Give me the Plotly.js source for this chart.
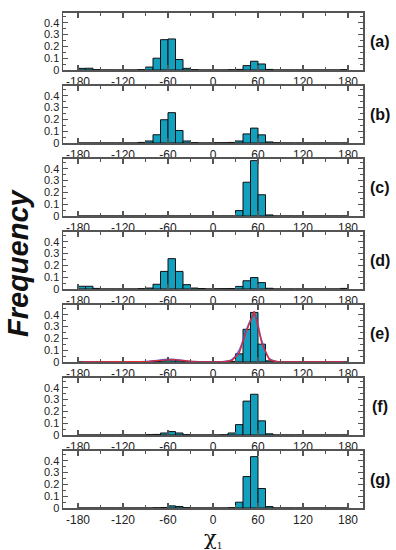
<!DOCTYPE html>
<html>
<head>
<meta charset="utf-8">
<script src="https://cdn.plot.ly/plotly-3.0.1.min.js"></script>
<style>html,body{margin:0;padding:0;background:#fff;}#chart{width:396px;height:550px;}</style>
</head>
<body>
<div id="chart"></div>
<script>
// Bin centers of chi1 (10-degree bins)
const chi1Bins = [-175,-165,-155,-145,-135,-125,-115,-105,-95,-85,-75,-65,-55,-45,-35,-25,-15,-5,
                  5,15,25,35,45,55,65,75,85,95,105,115,125,135,145,155,165,175];

const freqA = [0.014,0.015,0.003,0,0,0,0,0,0.003,0.025,0.10,0.257,0.263,0.089,0.014,0.003,0,0,
               0,0,0.002,0.005,0.037,0.074,0.051,0.005,0,0,0,0,0,0,0,0,0,0.003];
const freqB = [0,0,0,0,0,0,0,0,0.005,0.017,0.07,0.197,0.257,0.106,0.017,0.003,0,0,
               0.002,0.003,0.005,0.017,0.077,0.126,0.069,0.009,0.002,0,0,0,0,0,0,0,0,0];
const freqC = [0,0,0,0,0,0,0,0,0,0,0,0,0,0,0,0,0,0,
               0,0,0,0.046,0.286,0.469,0.18,0.009,0,0,0,0,0,0,0,0,0,0];
const freqD = [0.023,0.023,0.005,0,0,0,0,0,0.003,0.008,0.04,0.149,0.257,0.149,0.037,0.008,0.004,0,
               0.002,0.003,0.004,0.022,0.07,0.097,0.054,0.006,0,0,0,0,0,0,0,0,0,0.005];
const freqE = [0,0,0,0,0,0,0,0,0,0.002,0.005,0.015,0.018,0.012,0.004,0,0,0,
               0,0.001,0.005,0.069,0.277,0.42,0.151,0.01,0,0,0,0,0,0,0,0,0,0];
const freqF = [0,0,0,0,0,0,0,0,0,0.003,0.005,0.017,0.029,0.017,0.003,0,0,0,
               0,0.002,0.017,0.088,0.287,0.345,0.12,0.01,0,0,0,0,0,0,0,0,0,0];
const freqG = [0,0,0,0,0,0,0,0,0,0,0.002,0.004,0.018,0.013,0.003,0,0,0,
               0,0,0.003,0.049,0.266,0.435,0.165,0.012,0,0,0,0,0,0,0,0,0,0];

// Fitted curves shown in panel (e)
const fitRed  = [0,0,0,0,0,0,0,0,0.002,0.005,0.012,0.018,0.02,0.016,0.008,0.003,0.001,0,
                 0.001,0.003,0.012,0.075,0.27,0.43,0.16,0.02,0.003,0,0,0,0,0,0,0,0,0];
const fitBlue = [0,0,0,0,0,0,0,0,0.002,0.006,0.013,0.02,0.022,0.017,0.009,0.003,0.001,0,
                 0.001,0.004,0.02,0.1,0.28,0.40,0.18,0.03,0.004,0,0,0,0,0,0,0,0,0];

const panels = [freqA, freqB, freqC, freqD, freqE, freqF, freqG];
const panelLabels = ['(a)','(b)','(c)','(d)','(e)','(f)','(g)'];
const xTickVals = [-180,-120,-60,0,60,120,180];
const xTickText = ['-180','-120','-60','0','60','120','180'];
const yTickVals = [0,0.1,0.2,0.3,0.4];
const yTickText = ['0','0.1','0.2','0.3','0.4'];

const barColor = '#12a0be';
const axisColor = '#555';
const fontFam = 'Arial, "Liberation Sans", Helvetica, sans-serif';

const W = 396, H = 550;
const mT = 12, mB = 42, mL = 63, mR = 33;
const plotH = H - mT - mB;
const paperBottomPx = H - mB;
const pitch = 73, panelH = 57.5, firstBottom = 70;

const data = [];
const layout = {
  width: W, height: H,
  margin: {l: mL, r: mR, t: mT, b: mB, pad: 0},
  paper_bgcolor: '#fff', plot_bgcolor: '#fff',
  showlegend: false,
  bargap: 0,
  font: {family: fontFam, size: 12, color: '#222'},
  annotations: []
};

panels.forEach((vals, k) => {
  const n = k + 1;
  const xa = n === 1 ? 'x' : 'x' + n;
  const ya = n === 1 ? 'y' : 'y' + n;
  data.push({
    type: 'bar', x: chi1Bins, y: vals, width: 10,
    xaxis: xa, yaxis: ya,
    marker: {color: barColor, line: {color: '#111', width: 1}},
    hoverinfo: 'x+y'
  });
  if (k === 4) {
    data.push({type: 'scatter', mode: 'lines', x: chi1Bins, y: fitBlue, xaxis: xa, yaxis: ya,
      line: {color: '#3a4ae8', width: 1.6, shape: 'spline'}, opacity: 0.85});
    data.push({type: 'scatter', mode: 'lines', x: chi1Bins, y: fitRed, xaxis: xa, yaxis: ya,
      line: {color: '#dd2a35', width: 1.4}});
  }
  const bPx = firstBottom + pitch * k;
  const tPx = bPx - panelH;
  const d0 = (paperBottomPx - bPx) / plotH;
  const d1 = Math.min(1, (paperBottomPx - tPx) / plotH);
  const xKey = n === 1 ? 'xaxis' : 'xaxis' + n;
  const yKey = n === 1 ? 'yaxis' : 'yaxis' + n;
  layout[xKey] = {
    domain: [0, 1], anchor: ya, range: [-200, 200],
    tickmode: 'array', tickvals: xTickVals, ticktext: xTickText,
    ticks: 'inside', ticklen: 5, tickwidth: 1.2, tickcolor: axisColor,
    minor: {dtick: 30, tick0: 0, ticks: 'inside', ticklen: 3, tickwidth: 1.2, tickcolor: axisColor},
    showline: true, linecolor: axisColor, linewidth: 1.5, mirror: 'ticks',
    showgrid: false, zeroline: false,
    tickfont: {family: fontFam, size: 12, color: '#222'}
  };
  layout[yKey] = {
    domain: [d0, d1], anchor: xa, range: [0, 0.487],
    tickmode: 'array', tickvals: yTickVals, ticktext: yTickText,
    ticks: 'inside', ticklen: 5, tickwidth: 1.2, tickcolor: axisColor,
    minor: {dtick: 0.05, tick0: 0, ticks: 'inside', ticklen: 3, tickwidth: 1.2, tickcolor: axisColor},
    showline: true, linecolor: axisColor, linewidth: 1.5, mirror: 'ticks',
    showgrid: false, zeroline: false,
    tickfont: {family: fontFam, size: 11, color: '#222'}
  };
  layout.annotations.push({
    text: '<b>' + panelLabels[k] + '</b>', xref: 'paper', yref: 'paper',
    x: (380 - mL) / (W - mL - mR), y: (d0 + d1) / 2, xanchor: 'center', yanchor: 'middle',
    showarrow: false, font: {family: fontFam, size: 16, color: '#111'}
  });
});

layout.annotations.push({
  text: '<b><i>Frequency</i></b>', xref: 'paper', yref: 'paper',
  x: (18 - mL) / (W - mL - mR), y: (paperBottomPx - 263) / plotH,
  xanchor: 'center', yanchor: 'middle', textangle: -90, showarrow: false,
  font: {family: fontFam, size: 29, color: '#111'}
});
layout.annotations.push({
  text: 'χ<sub><span style="font-size:9px">1</span></sub>', xref: 'paper', yref: 'paper',
  x: 0.5, y: (paperBottomPx - 538) / plotH,
  xanchor: 'center', yanchor: 'middle', showarrow: false,
  font: {family: '"DejaVu Serif", serif', size: 21, color: '#111'}
});

Plotly.newPlot('chart', data, layout, {displayModeBar: false, staticPlot: true});
</script>
</body>
</html>
